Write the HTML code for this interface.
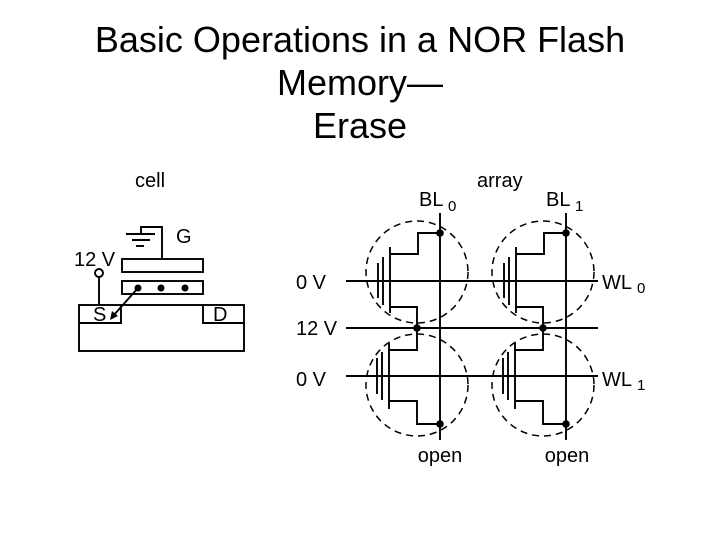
<!DOCTYPE html>
<html><head><style>
html,body{margin:0;padding:0;background:#fff;}
svg{display:block;font-family:"Liberation Sans",Arial,sans-serif;}
</style></head><body>
<svg width="720" height="540" viewBox="0 0 720 540" xmlns="http://www.w3.org/2000/svg">
<g font-size="36" text-anchor="middle" fill="#000">
<text x="360" y="52">Basic Operations in a NOR Flash</text>
<text x="360" y="95">Memory—</text>
<text x="360" y="138">Erase</text>
</g>
<g stroke="#000" stroke-width="1.9" fill="none">
<polyline points="141,233 141,227 162,227 162,259"/>
<line x1="126" y1="234" x2="155" y2="234"/>
<line x1="132" y1="240" x2="150" y2="240"/>
<line x1="136" y1="246" x2="144" y2="246"/>
<rect x="122" y="259" width="81" height="13"/>
<rect x="122" y="281" width="81" height="13"/>
<rect x="79" y="305" width="165" height="46"/>
<polyline points="79,323 121,323 121,305"/>
<polyline points="244,323 203,323 203,305"/>
<circle cx="99" cy="273" r="4"/>
<line x1="99" y1="277" x2="99" y2="305"/>
<line x1="138" y1="288" x2="113" y2="316"/>
</g>
<polygon points="110,320 112,311 118,316" fill="#000"/>
<g fill="#000"><circle cx="138" cy="288" r="3.5"/><circle cx="161" cy="288" r="3.5"/><circle cx="185" cy="288" r="3.5"/></g>
<g font-size="20" fill="#000">
<text x="135" y="187">cell</text>
<text x="176" y="243">G</text>
<text x="74" y="266">12 V</text>
<text x="93" y="321">S</text>
<text x="213" y="321">D</text>
<text x="477" y="187">array</text>
<text x="419" y="206">BL</text><text x="448" y="211" font-size="15">0</text>
<text x="546" y="206">BL</text><text x="575" y="211" font-size="15">1</text>
<text x="296" y="289">0 V</text>
<text x="296" y="335">12 V</text>
<text x="296" y="386">0 V</text>
<text x="602" y="289">WL</text><text x="637" y="293" font-size="15">0</text>
<text x="602" y="386">WL</text><text x="637" y="390" font-size="15">1</text>
<text x="440" y="462" text-anchor="middle">open</text>
<text x="567" y="462" text-anchor="middle">open</text>
</g>
<g stroke="#000" stroke-width="1.9" fill="none">
<line x1="346" y1="281" x2="598" y2="281"/>
<line x1="346" y1="328" x2="598" y2="328"/>
<line x1="346" y1="376" x2="598" y2="376"/>
<line x1="440" y1="213" x2="440" y2="440"/>
<line x1="566" y1="213" x2="566" y2="440"/>
</g>
<defs>
<g id="top">
<circle cx="417" cy="272" r="51" stroke="#000" stroke-width="1.5" fill="none" stroke-dasharray="7,5"/>
<g stroke="#000" stroke-width="1.9" fill="none">
<line x1="390" y1="247" x2="390" y2="313"/>
<line x1="383" y1="257" x2="383" y2="305"/>
<line x1="378" y1="263" x2="378" y2="298"/>
<polyline points="390,254 418,254 418,233 440,233"/>
<polyline points="390,307 417,307 417,328"/>
</g>
<circle cx="440" cy="233" r="3.8" fill="#000"/>
<circle cx="417" cy="328" r="3.8" fill="#000"/>
</g>
<g id="bot">
<circle cx="417" cy="385" r="51" stroke="#000" stroke-width="1.5" fill="none" stroke-dasharray="7,5"/>
<g stroke="#000" stroke-width="1.9" fill="none">
<line x1="389" y1="343" x2="389" y2="409"/>
<line x1="382" y1="352" x2="382" y2="400"/>
<line x1="377" y1="358" x2="377" y2="394"/>
<polyline points="389,350 417,350 417,328"/>
<polyline points="389,401 417,401 417,424 440,424"/>
</g>
<circle cx="440" cy="424" r="3.8" fill="#000"/>
</g>
</defs>
<use href="#top"/>
<use href="#top" transform="translate(126,0)"/>
<use href="#bot"/>
<use href="#bot" transform="translate(126,0)"/>
</svg>
</body></html>
